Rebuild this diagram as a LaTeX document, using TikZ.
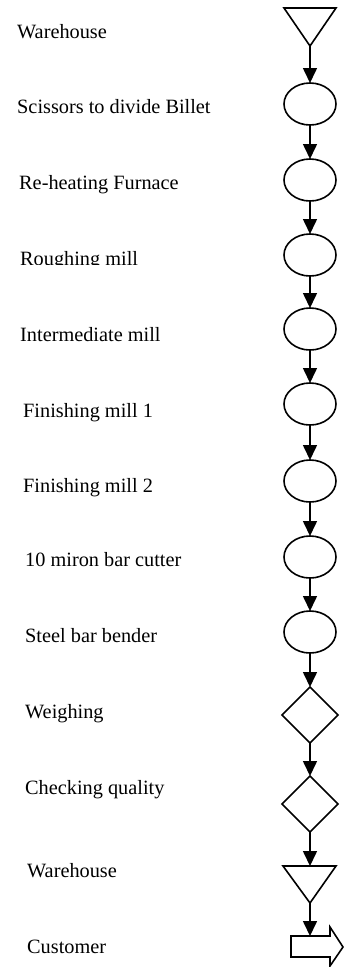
\documentclass[tikz,border=0pt]{standalone}
\usepackage{fontspec}
\setmainfont{Liberation Serif}
\usetikzlibrary{arrows.meta,shapes.geometric}
\begin{document}
\begin{tikzpicture}[x=1pt,y=-1pt,
  lbl/.style={anchor=base west,inner sep=0pt,font=\fontsize{20.3}{24}\selectfont},
  ell/.style={draw,ellipse,line width=1.6pt,minimum width=52pt,minimum height=42pt,inner sep=0pt,outer sep=0pt},
  dia/.style={draw,diamond,line width=1.6pt,minimum width=56pt,minimum height=56pt,inner sep=0pt,outer sep=0pt},
  shp/.style={draw,line width=1.6pt,line join=miter},
  arr/.style={line width=1.6pt,-{Triangle[length=15pt,width=14pt]}}]
\useasboundingbox (0,0) rectangle (345,967);
% labels
\node[lbl] (l1) at (17,38) {Warehouse};
\node[lbl] (l2) at (17,113) {Scissors to divide Billet};
\node[lbl] (l3) at (19,189) {Re-heating Furnace};
\begin{scope}
\clip (0,240) rectangle (250,264);
\node[lbl] (l4) at (20,265) {Roughing mill};
\end{scope}
\node[lbl] (l5) at (20,341) {Intermediate mill};
\node[lbl] (l6) at (23,417) {Finishing mill 1};
\node[lbl] (l7) at (23,492) {Finishing mill 2};
\node[lbl] (l8) at (25,566) {10 miron bar cutter};
\node[lbl] (l9) at (25,642) {Steel bar bender};
\node[lbl] (l10) at (25,718) {Weighing};
\node[lbl] (l11) at (25,794) {Checking quality};
\node[lbl] (l12) at (27,877) {Warehouse};
\node[lbl] (l13) at (27,953) {Customer};
% shapes
\draw[shp] (284,8) -- (336,8) -- (310,46) -- cycle;
\coordinate (t1) at (310,46);
\node[ell] (e1) at (310,104) {};
\node[ell] (e2) at (310,180) {};
\node[ell] (e3) at (310,255) {};
\node[ell] (e4) at (310,329) {};
\node[ell] (e5) at (310,404) {};
\node[ell] (e6) at (310,481) {};
\node[ell] (e7) at (310,557) {};
\node[ell] (e8) at (310,632) {};
\node[dia] (d1) at (310,715) {};
\node[dia] (d2) at (310,804) {};
\draw[shp] (283,866) -- (336,866) -- (310,903) -- cycle;
\coordinate (t2top) at (310,866);
\coordinate (t2) at (310,903);
\draw[shp] (291,936) -- (330,936) -- (330,927) -- (343,947) -- (330,966) -- (330,957) -- (291,957) -- cycle;
\coordinate (c1) at (310,936);
% connectors
\draw[arr] (t1) -- (e1.north);
\draw[arr] (e1.south) -- (e2.north);
\draw[arr] (e2.south) -- (e3.north);
\draw[arr] (e3.south) -- (e4.north);
\draw[arr] (e4.south) -- (e5.north);
\draw[arr] (e5.south) -- (e6.north);
\draw[arr] (e6.south) -- (e7.north);
\draw[arr] (e7.south) -- (e8.north);
\draw[arr] (e8.south) -- (d1.north);
\draw[arr] (d1.south) -- (d2.north);
\draw[arr] (d2.south) -- (t2top);
\draw[arr] (t2) -- (c1);
\end{tikzpicture}
\end{document}
